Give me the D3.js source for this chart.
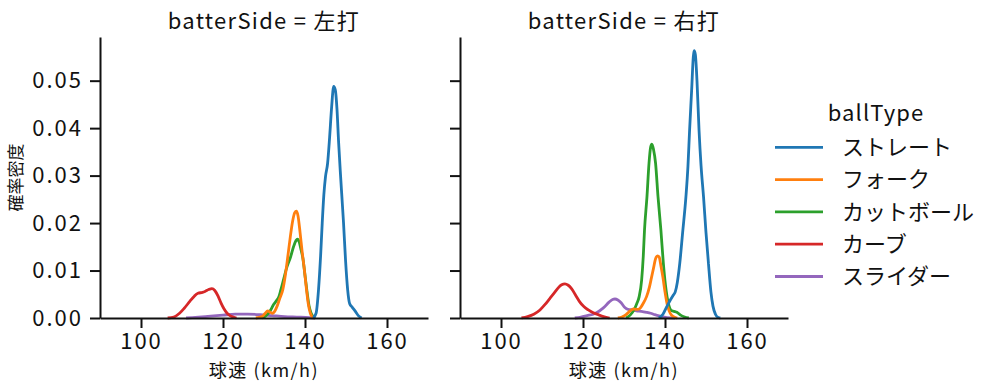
<!DOCTYPE html>
<html>
<head>
<meta charset="utf-8">
<script src="https://cdn.jsdelivr.net/npm/d3@7"></script>
<style>
	body {
		margin: 0;
		background: #fff;
	}
	text {
		font-family: "Noto Sans CJK JP", "Noto Sans", sans-serif;
		fill: #111;
	}
	.axis path, .axis line {
		stroke: #111;
		stroke-width: 2;
	}
	.curve {
		fill: none;
		stroke-width: 2.8;
		stroke-linejoin: round;
	}
</style>
</head>
<body>
<div id="chart"></div>
<script>

	// categories
	var panels = ["左打", "右打"];
	var ballTypes = ["ストレート", "フォーク", "カットボール", "カーブ", "スライダー"];
	var colors = ["#1f77b4", "#ff7f0e", "#2ca02c", "#d62728", "#9467bd"];
	var speedTicks = [100, 120, 140, 160];
	var densityTicks = [0, 0.01, 0.02, 0.03, 0.04, 0.05];

	// density curves, [speed, density]
	var straightL = [[142,0],[142.7,0.001],[143.3,0.006],[143.8,0.013],[144.2,0.02],[144.6,0.026],[145,0.0298],[145.5,0.0325],
		[146,0.038],[146.5,0.0445],[147,0.0488],[147.4,0.048],[147.8,0.044],[148.2,0.037],[148.6,0.031],[149,0.0255],
		[149.4,0.02],[149.9,0.012],[150.4,0.006],[150.9,0.003],[151.5,0.0023],[152.2,0.0015],[153,0.0005],[153.8,0]];
	var forkL = [[128,0],[129.5,0.0003],[130.3,0.001],[130.9,0.0015],[131.5,0.0012],[132,0.001],[132.6,0.0014],[133.2,0.0025],
		[133.8,0.004],[134.6,0.006],[135.2,0.009],[135.8,0.0129],[136.4,0.017],[137,0.0205],[137.5,0.0222],[137.9,0.0225],
		[138.3,0.0215],[138.8,0.018],[139.3,0.014],[139.8,0.0105],[140.3,0.0065],[140.8,0.003],[141.3,0.001],[141.8,0.0002],[142.3,0]];
	var cutterL = [[129.5,0],[130.5,0.0005],[131.5,0.0015],[132.3,0.0028],[133,0.0036],[133.6,0.0044],[134.1,0.0059],[134.8,0.0082],
		[135.5,0.0105],[136.5,0.0129],[137.2,0.015],[137.8,0.0163],[138.2,0.0166],[138.6,0.016],[139,0.0145],[139.5,0.0125],
		[140,0.009],[140.5,0.0055],[141,0.0025],[141.5,0.001],[142,0.0003],[142.5,0]];
	var curveL = [[106.5,0],[108,0.0002],[109.4,0.001],[110.5,0.002],[111.9,0.0035],[113,0.0046],[113.9,0.0052],[115,0.0054],
		[115.6,0.0056],[116.5,0.006],[117.3,0.0062],[118,0.0058],[118.8,0.0046],[119.5,0.0032],[120.2,0.002],[121,0.001],
		[121.7,0.0005],[122.5,0.0002],[123.3,0]];
	var sliderL = [[111,0],[114,0.0002],[117,0.0004],[120,0.0006],[123,0.0008],[126,0.0008],[129,0.0007],[132,0.0005],
		[135,0.0003],[138,0.0002],[141,0.0001],[142.5,0]];

	var straightR = [[138.5,0],[139.5,0.0008],[140.5,0.0025],[141.3,0.0038],[142,0.0048],[142.5,0.0055],[143,0.0075],[143.6,0.0115],
		[144.3,0.018],[145.1,0.0255],[145.6,0.032],[146,0.0396],[146.5,0.048],[146.9,0.055],[147.1,0.0563],[147.4,0.0555],
		[147.8,0.05],[148.3,0.0396],[148.8,0.032],[149.4,0.0255],[150,0.018],[150.6,0.0115],[151.2,0.0055],[151.7,0.0025],
		[152.3,0.0008],[153,0.0001],[153.5,0]];
	var forkR = [[128.5,0],[129.5,0.0002],[130.5,0.0007],[131.5,0.0015],[132.3,0.0019],[133,0.0018],[133.7,0.0019],[134.7,0.0031],
		[135.5,0.0045],[136.2,0.0065],[136.7,0.0085],[137.2,0.0105],[137.7,0.0125],[138.2,0.0131],[138.6,0.0128],[139,0.011],
		[139.5,0.0085],[140,0.0055],[140.5,0.003],[141,0.0015],[141.6,0.0006],[142.5,0.0001],[143,0]];
	var cutterR = [[130.5,0],[131.5,0.0006],[132.5,0.0018],[133.2,0.0032],[133.7,0.0045],[134.3,0.008],[134.7,0.013],[135,0.0185],
		[135.6,0.0255],[136.1,0.0326],[136.5,0.036],[136.8,0.0366],[137.2,0.0355],[137.7,0.0326],[138.3,0.0255],[139,0.0185],
		[139.6,0.0115],[140.1,0.007],[140.5,0.0045],[141,0.0025],[141.5,0.0016],[142.2,0.0014],[142.9,0.0012],[143.8,0.0006],
		[144.8,0.0002],[145.8,0]];
	var curveR = [[105,0],[106.5,0.0003],[108,0.0008],[109.5,0.0017],[110.7,0.0028],[111.9,0.0041],[113,0.0053],[113.9,0.0063],
		[114.8,0.007],[115.6,0.0072],[116.4,0.0069],[117.2,0.0062],[118.2,0.0048],[119.2,0.0034],[120.2,0.0024],[121.3,0.0017],
		[122.5,0.0011],[123.7,0.0007],[125,0.0003],[126.5,0]];
	var sliderR = [[118,0],[119.5,0.0002],[121,0.0005],[122.5,0.0008],[123.5,0.0012],[124.5,0.0018],[125.4,0.0025],[126.3,0.0033],
		[127.2,0.0039],[127.8,0.004],[128.5,0.0038],[129.3,0.0032],[130.2,0.0022],[131,0.0018],[132,0.0017],[133,0.0015],
		[134.2,0.0014],[135.5,0.0012],[136.5,0.001],[137.5,0.0007],[138.8,0.0004],[140.5,0.0001],[142.5,0]];

	var seriesByPanel = [
		[straightL, forkL, cutterL, curveL, sliderL],
		[straightR, forkR, cutterR, curveR, sliderR]
	];

	var width = 997, height = 391;
	var panelLeft = [100, 460], panelWidth = 328;
	var plotTop = 37, plotBottom = 318;

	var svg = d3.select("#chart")
		.append("svg")
		.attr("width", width)
		.attr("height", height);

	var y = d3.scaleLinear().domain([0, 0.0592]).range([plotBottom, plotTop]);

	panels.forEach(function(side, p) {
		var x = d3.scaleLinear()
			.domain([90, 170])
			.range([panelLeft[p], panelLeft[p] + panelWidth]);

		var g = svg.append("g");

		var line = d3.line()
			.x(function(d) { return x(d[0]); })
			.y(function(d) { return y(d[1]); })
			.curve(d3.curveMonotoneX);

		// draw last series first so blue ends up on top
		seriesByPanel[p].slice().reverse().forEach(function(s, i) {
			var k = ballTypes.length - 1 - i;
			g.append("path")
				.attr("class", "curve")
				.attr("d", line(s))
				.attr("stroke", colors[k]);
		});

		var xAxis = g.append("g")
			.attr("class", "axis")
			.attr("transform", "translate(0," + plotBottom + ")")
			.call(d3.axisBottom(x).tickValues(speedTicks).tickSize(10).tickPadding(5).tickSizeOuter(0));
		xAxis.selectAll("text").style("font-size", "22px").style("letter-spacing", "2px");

		var yAxis = g.append("g")
			.attr("class", "axis")
			.attr("transform", "translate(" + panelLeft[p] + ",0)")
			.call(d3.axisLeft(y).tickValues(densityTicks).tickSize(10).tickPadding(7).tickSizeOuter(0)
				.tickFormat(p == 0 ? d3.format(".2f") : ""));
		yAxis.selectAll("text").style("font-size", "22px").style("letter-spacing", "2px");

		g.append("text")
			.attr("x", panelLeft[p] + panelWidth / 2)
			.attr("y", 29)
			.attr("text-anchor", "middle")
			.style("font-size", "22px")
			.style("letter-spacing", "1.3px")
			.text("batterSide = " + side);

		g.append("text")
			.attr("x", panelLeft[p] + panelWidth / 2)
			.attr("y", 377)
			.attr("text-anchor", "middle")
			.style("font-size", "18px")
			.style("letter-spacing", "1.5px")
			.text("球速 (km/h)");
	});

	svg.append("text")
		.attr("transform", "translate(22," + (plotTop + plotBottom) / 2 + ") rotate(-90)")
		.attr("text-anchor", "middle")
		.style("font-size", "17px")
		.text("確率密度");

	// legend
	var legend = svg.append("g");
	legend.append("text")
		.attr("x", 876)
		.attr("y", 121)
		.attr("text-anchor", "middle")
		.style("font-size", "22px")
		.style("letter-spacing", "1.1px")
		.text("ballType");

	var item = legend.selectAll(".item")
		.data(ballTypes)
		.enter().append("g")
		.attr("class", "item")
		.attr("transform", function(d, i) { return "translate(0," + (147.3 + i * 32.3) + ")"; });
	item.append("line")
		.attr("x1", 775).attr("x2", 823)
		.attr("stroke", function(d, i) { return colors[i]; })
		.attr("stroke-width", 2.8);
	item.append("text")
		.attr("x", 842)
		.attr("dy", "0.35em")
		.style("font-size", "22px")
		.text(function(d) { return d; });

</script>
</body>
</html>
